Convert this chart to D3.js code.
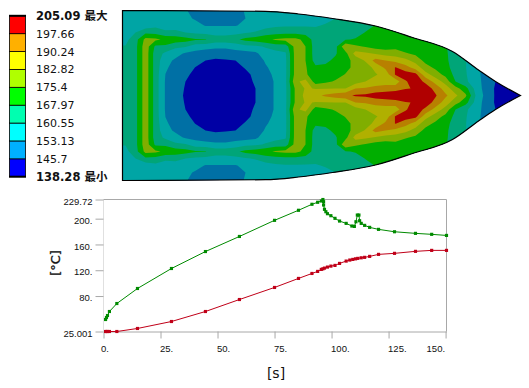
<!DOCTYPE html>
<html lang="en">

<head>
    <meta charset="UTF-8">
    <title>Temperature result</title>
    <script src="https://d3js.org/d3.v7.min.js"></script>
    <style>
        body { margin: 0; background: #fff; }
        svg { display: block; }
        .axis text { font-family: "Liberation Sans", sans-serif; font-size: 9.5px; fill: #111; }
        .axis line, .axis path { stroke: #a8a8a8; }
    </style>
</head>

<body>
    <div id="my_dataviz"></div>
    <script>
        // legend, lowest value first
        const legendValues = [138.28, 145.7, 153.13, 160.55, 167.97, 175.4, 182.82, 190.24, 197.66, 205.09];
        const legendLabels = ["138.28 最小", "145.7", "153.13", "160.55", "167.97", "175.4", "182.82", "190.24", "197.66", "205.09 最大"];
        const legendColors = ["#0000ff", "#00b0ff", "#00ffff", "#00ffb0", "#00ff00", "#b0ff00", "#ffff00", "#ffb000", "#ff0000"];
        const bandColors = ["#0000a5", "#0070a5", "#00a5a5", "#00a578", "#00ae00", "#80ae00", "#b0b000", "#b88000", "#b00000"];

        // hull, half width at stations along the length
        const hullLength = [0, 143, 176, 210, 253, 290, 330, 356, 373, 398];
        const hullHalfWidth = [85, 84.2, 81.5, 77, 69.5, 58, 44, 25.5, 14, 0];

        // temperature, in legend bands (0 = lowest colour).
        // one list per station along the length, each from centre line out to the edge
        const fieldColumns = [
            [3.5, 3.5, 3.5, 3.5, 3.5, 3.4, 3.3, 3.05, 2.7, 2.5, 2.5, 2.5, 2.5, 2.5],
            [3.5, 3.5, 3.5, 3.5, 3.5, 3.4, 3.3, 3.05, 2.7, 2.5, 2.5, 2.5, 2.5, 2.5],
            [3.7, 3.7, 3.7, 3.7, 3.7, 3.7, 3.7, 3.7, 3.6, 3.0, 2.7, 2.5, 2.5, 2.5],
            [5.6, 5.6, 5.6, 5.6, 5.6, 5.6, 5.6, 5.6, 5.3, 3.8, 2.4, 2.3, 2.3, 2.3],
            [3.5, 3.5, 3.5, 3.5, 3.5, 3.5, 3.5, 3.8, 5.2, 3.7, 2.7, 2.2, 2.1, 2.1],
            [1.9, 1.9, 1.9, 1.98, 2.2, 2.4, 2.8, 3.8, 4.8, 3.2, 2.6, 2.1, 2.0, 2.0],
            [1.3, 1.3, 1.3, 1.4, 1.5, 1.8, 2.4, 3.2, 4.6, 3.3, 2.5, 2.1, 2.1, 2.1],
            [0.9, 0.95, 1.0, 1.15, 1.3, 1.5, 1.85, 3.1, 4.4, 3.0, 2.4, 2.2, 2.1, 2.1],
            [0.5, 0.55, 0.65, 0.8, 0.98, 1.3, 1.7, 2.5, 4.1, 2.8, 2.3, 1.9, 1.7, 1.6],
            [0.3, 0.35, 0.45, 0.6, 0.8, 1.0, 1.5, 2.4, 4.05, 2.7, 1.95, 1.6, 1.5, 1.5],
            [0.2, 0.25, 0.35, 0.5, 0.7, 0.9, 1.3, 2.3, 3.5, 2.6, 1.95, 1.5, 1.3, 1.3],
            [0.2, 0.25, 0.35, 0.5, 0.7, 0.95, 1.3, 2.3, 3.5, 2.6, 1.95, 1.5, 1.3, 1.3],
            [0.3, 0.35, 0.45, 0.6, 0.8, 1.0, 1.6, 2.4, 3.8, 2.7, 1.95, 1.6, 1.5, 1.5],
            [0.6, 0.65, 0.75, 0.85, 1.05, 1.25, 1.6, 2.7, 4.3, 2.9, 2.2, 2.0, 2.1, 2.1],
            [1.0, 1.0, 1.1, 1.15, 1.3, 1.5, 1.8, 2.8, 4.5, 3.1, 2.4, 2.3, 2.3, 2.3],
            [1.6, 1.6, 1.6, 1.7, 1.9, 2.1, 2.5, 3.1, 4.8, 3.5, 2.6, 2.3, 2.3, 2.3],
            [2.1, 2.1, 2.1, 2.2, 2.3, 2.4, 2.6, 3.5, 5.1, 3.6, 2.85, 2.4, 2.3, 2.3],
            [2.8, 2.8, 2.8, 2.8, 2.8, 2.8, 2.9, 3.5, 5.3, 3.7, 2.9, 2.5, 2.4, 2.4],
            [5.2, 5.2, 5.8, 5.4, 5.4, 5.4, 5.4, 5.4, 5.3, 3.7, 2.9, 2.5, 2.3, 2.3],
            [6.3, 6.1, 6.3, 5.2, 5.1, 5.0, 5.0, 5.0, 4.7, 3.6, 2.9, 2.4, 2.3, 2.3],
            [6.7, 5.95, 4.5, 4.2, 4.2, 3.6, 3.5, 3.5, 3.5, 3.4, 2.9, 2.5, 2.3, 2.3],
            [7.2, 5.95, 4.8, 4.4, 4.2, 3.8, 3.5, 3.5, 3.5, 3.5, 3.1, 2.7, 2.5, 2.5],
            [7.5, 6.0, 5.1, 4.6, 4.3, 4.2, 3.9, 3.7, 3.5, 3.5, 3.3, 3.0, 2.8, 2.7],
            [7.8, 6.0, 5.5, 5.05, 4.7, 4.6, 4.7, 5.8, 3.9, 3.5, 3.4, 3.3, 3.2, 3.1],
            [8.1, 7.0, 5.5, 5.3, 5.3, 5.4, 6.4, 5.2, 4.1, 3.5, 3.4, 3.4, 3.3, 3.3],
            [8.2, 7.1, 6.0, 5.6, 5.5, 6.1, 6.2, 4.9, 4.3, 4.05, 3.6, 3.5, 3.4, 3.4],
            [8.5, 7.3, 6.5, 5.9, 6.3, 7.4, 5.9, 4.6, 4.3, 4.2, 4.05, 3.6, 3.5, 3.5],
            [8.6, 7.5, 6.5, 6.4, 7.2, 7.0, 5.6, 4.5, 4.3, 4.2, 4.1, 4.0, 4.0, 4.0],
            [8.7, 7.6, 6.4, 8.1, 8.05, 6.7, 5.5, 4.7, 4.3, 4.2, 4.1, 4.1, 4.1, 4.1],
            [8.8, 7.95, 7.9, 8.5, 7.4, 6.3, 5.1, 4.4, 4.2, 4.1, 4.1, 4.1, 4.1, 4.1],
            [8.8, 8.05, 8.5, 8.3, 6.6, 5.6, 4.8, 4.4, 4.2, 4.1, 4.1, 4.1, 4.1, 4.1],
            [8.7, 8.5, 7.8, 6.4, 5.4, 4.7, 4.4, 4.3, 4.2, 4.1, 4.1, 4.1, 4.1, 4.1],
            [8.1, 7.7, 6.6, 5.5, 4.8, 4.4, 4.3, 4.2, 4.1, 4.1, 4.1, 4.1, 4.1, 4.1],
            [7.2, 6.5, 5.6, 4.7, 4.3, 4.2, 4.15, 4.1, 4.1, 4.1, 4.1, 4.1, 4.1, 4.1],
            [6.2, 5.4, 4.0, 3.7, 3.6, 3.5, 3.5, 3.4, 3.4, 3.4, 3.4, 3.4, 3.4, 3.4],
            [5.2, 4.4, 3.2, 3.1, 3.05, 3.05, 3.0, 3.0, 3.0, 3.0, 3.0, 3.0, 3.0, 3.0],
            [3.0, 2.7, 2.4, 2.3, 2.3, 2.3, 2.3, 2.3, 2.3, 2.3, 2.3, 2.3, 2.3, 2.3],
            [1.7, 1.6, 1.7, 1.7, 1.7, 1.7, 1.7, 1.7, 1.7, 1.7, 1.7, 1.7, 1.7, 1.7],
            [0.9, 0.9, 1.0, 1.0, 1.0, 1.0, 1.0, 1.0, 1.0, 1.0, 1.0, 1.0, 1.0, 1.0],
            [0.5, 0.5, 0.5, 0.5, 0.5, 0.5, 0.5, 0.5, 0.5, 0.5, 0.5, 0.5, 0.5, 0.5],
            [0.2, 0.2, 0.2, 0.2, 0.2, 0.2, 0.2, 0.2, 0.2, 0.2, 0.2, 0.2, 0.2, 0.2],
            [0.1, 0.1, 0.1, 0.1, 0.1, 0.1, 0.1, 0.1, 0.1, 0.1, 0.1, 0.1, 0.1, 0.1]
        ];

        // time history
        const greenTime = [0.9, 1.3, 1.75, 2.6, 5.85, 14.9, 29.8, 44.7, 59.6, 75, 85.5, 91.4, 93.9, 95.5, 96.2, 96.5, 96.5, 96.9, 97.5, 98.2, 99.7, 101.5, 103.5, 106.4, 108.9, 110, 110.7, 111.3, 112, 112.3, 113, 114.5, 116.7, 120.6, 127.6, 136.8, 143.9, 150.4];
        const greenTemp = [43.6, 46.7, 49.8, 56, 68.4, 91.7, 122.7, 149, 172.4, 197.4, 213, 222.3, 225.4, 227.4, 229.7, 226.3, 221.2, 214.5, 210.8, 207.7, 204.6, 200.5, 196.3, 192.7, 188.6, 188, 195.2, 205.6, 205.6, 196.8, 192.7, 189.6, 186.5, 183.4, 179.7, 177.2, 175.7, 174];
        const redTime = [0.9, 1.3, 1.75, 2.6, 5.85, 14.9, 29.8, 44.7, 59.6, 75, 85.5, 91.4, 93.9, 95.5, 96.2, 96.9, 98.2, 99.7, 101.5, 103.5, 106.4, 108, 109.3, 110.5, 111.5, 113, 114.5, 116.7, 120.6, 127.6, 136.8, 143.9, 150.4];
        const redTemp = [25, 25, 25, 25, 25, 29.7, 40.5, 56, 74.6, 93.3, 107.3, 115, 118.2, 121.3, 122.2, 123.3, 124.9, 126.4, 127.5, 130.6, 134.2, 135.8, 136.8, 137.7, 138.4, 139.3, 140, 141.5, 144.6, 146.2, 149.3, 150.8, 150.8];
        const xTicks = [0, 25, 50, 75, 100, 125, 150];
        const yTicks = [25.001, 80, 120, 160, 200, 229.72];
        const yTickLabels = ["25.001", "80.", "120.", "160.", "200.", "229.72"];

        const svg = d3.select("#my_dataviz")
            .append("svg")
            .attr("width", 529)
            .attr("height", 388);

        // ---- legend
        const legendY = d3.scalePoint()
            .domain(d3.range(legendValues.length))
            .range([176.7, 15.8]);

        svg.append("g").selectAll("rect")
            .data(legendColors)
            .join("rect")
            .attr("x", 9.5)
            .attr("width", 16)
            .attr("y", (d, i) => legendY(i + 1))
            .attr("height", (d, i) => legendY(i) - legendY(i + 1))
            .attr("fill", d => d)
            .attr("stroke", "#000")
            .attr("stroke-width", 0.8);

        svg.append("g").selectAll("line")
            .data([0, legendValues.length - 1])
            .join("line")
            .attr("x1", 9)
            .attr("x2", 26)
            .attr("y1", d => legendY(d))
            .attr("y2", d => legendY(d))
            .attr("stroke", "#000")
            .attr("stroke-width", 2);

        svg.append("g").selectAll("text")
            .data(legendLabels)
            .join("text")
            .attr("x", 36)
            .attr("y", (d, i) => legendY(i) + 4)
            .attr("fill", "#111")
            .style("font-family", '"DejaVu Sans", "Noto Sans CJK SC", sans-serif')
            .style("font-size", (d, i) => (i === 0 || i === legendValues.length - 1) ? "11.5px" : "11px")
            .style("font-weight", (d, i) => (i === 0 || i === legendValues.length - 1) ? "bold" : "normal")
            .text(d => d);

        // ---- contour plot
        const lengthScale = d3.scaleLinear().domain([0, 398]).range([122.5, 520.5]);
        const widthScale = d3.scaleLinear().domain([-85, 85]).range([10.5, 180.5]);
        const stationStep = 10, stationStart = -7, widthStep = 7, widthRows = fieldColumns[0].length;

        const rowCount = widthRows * 2 - 1;
        const temperature = d3.scaleLinear().domain(d3.range(legendValues.length)).range(legendValues);
        const fieldGrid = [];
        for (let j = 0; j < rowCount; j++) {
            fieldColumns.forEach(col => {
                fieldGrid.push(temperature(col[Math.abs(j - (widthRows - 1))]));
            });
        }

        const contours = d3.contours()
            .size([fieldColumns.length, rowCount])
            .smooth(true)
            .thresholds(legendValues.slice(0, -1))(fieldGrid);

        const projection = d3.geoTransform({
            point: function (x, y) {
                this.stream.point(
                    lengthScale(stationStart + stationStep * (x - 0.5)),
                    widthScale(widthStep * (y - 0.5 - (widthRows - 1)))
                );
            }
        });

        const hull = d3.area()
            .x((d, i) => lengthScale(hullLength[i]))
            .y0((d) => widthScale(-d))
            .y1((d) => widthScale(d))
            .curve(d3.curveMonotoneX);

        svg.append("clipPath")
            .attr("id", "hull-clip")
            .append("path")
            .attr("d", hull(hullHalfWidth));

        svg.append("g")
            .attr("clip-path", "url(#hull-clip)")
            .selectAll("path")
            .data(contours)
            .join("path")
            .attr("d", d3.geoPath(projection))
            .attr("fill", (d, i) => bandColors[i]);

        svg.append("path")
            .attr("d", hull(hullHalfWidth))
            .attr("fill", "none")
            .attr("stroke", "#000")
            .attr("stroke-width", 1.2);

        // ---- time history
        const x = d3.scaleLinear().domain([0, 150.4]).range([103.5, 446.5]);
        const y = d3.scaleLinear().domain([25.001, 229.72]).range([331.5, 199.5]);

        svg.append("line")
            .attr("x1", x(0)).attr("x2", x(0))
            .attr("y1", y(229.72)).attr("y2", y(25.001))
            .attr("stroke", "#e0e0e0");
        svg.append("line")
            .attr("x1", x(150.4)).attr("x2", x(150.4))
            .attr("y1", y(229.72)).attr("y2", y(25.001))
            .attr("stroke", "#a8a8a8");
        svg.append("line")
            .attr("x1", x(0)).attr("x2", x(150.4))
            .attr("y1", y(229.72)).attr("y2", y(229.72))
            .attr("stroke", "#a8a8a8");

        svg.append("g")
            .attr("class", "axis")
            .attr("transform", `translate(0,${y(25.001)})`)
            .call(d3.axisBottom(x).tickValues(xTicks).tickFormat(d => d + ".").tickSize(7).tickSizeOuter(0))
            .call(g => g.selectAll("text")
                .attr("text-anchor", d => d === 150 ? "end" : "start")
                .attr("dx", d => d === 150 ? "-1px" : (d === 0 ? "-3px" : "-1px"))
                .attr("y", 14));

        svg.append("g")
            .attr("class", "axis")
            .attr("transform", `translate(${x(0)},0)`)
            .call(d3.axisLeft(y).tickValues(yTicks).tickFormat((d, i) => yTickLabels[i]).tickSize(8).tickSizeOuter(0))
            .call(g => g.select(".domain").remove())
            .call(g => g.selectAll("text").attr("x", -11).attr("dy", "0.5em"));

        const series = [
            { time: greenTime, temp: greenTemp, color: "#008a00" },
            { time: redTime, temp: redTemp, color: "#c00018" }
        ];
        const lineGen = d3.line().x(d => x(d[0])).y(d => y(d[1]));
        const marker = d3.symbol().type(d3.symbolSquare).size(10);

        series.forEach(s => {
            const pts = d3.zip(s.time, s.temp);
            svg.append("path")
                .attr("d", lineGen(pts))
                .attr("fill", "none")
                .attr("stroke", s.color)
                .attr("stroke-width", 1);
            svg.append("g").selectAll("path")
                .data(pts)
                .join("path")
                .attr("d", marker)
                .attr("transform", d => `translate(${x(d[0])},${y(d[1])})`)
                .attr("fill", s.color);
        });

        // axis titles
        svg.append("text")
            .attr("transform", "translate(60,263) rotate(-90)")
            .attr("text-anchor", "middle")
            .attr("fill", "#111")
            .attr("stroke", "#111")
            .attr("stroke-width", 0.3)
            .style("font-family", '"DejaVu Sans", sans-serif')
            .style("font-size", "13px")
            .text("[°C]");

        svg.append("text")
            .attr("x", 276)
            .attr("y", 378)
            .attr("text-anchor", "middle")
            .attr("fill", "#111")
            .style("font-family", '"DejaVu Sans", sans-serif')
            .style("font-size", "14px")
            .text("[s]");
    </script>
</body>

</html>
